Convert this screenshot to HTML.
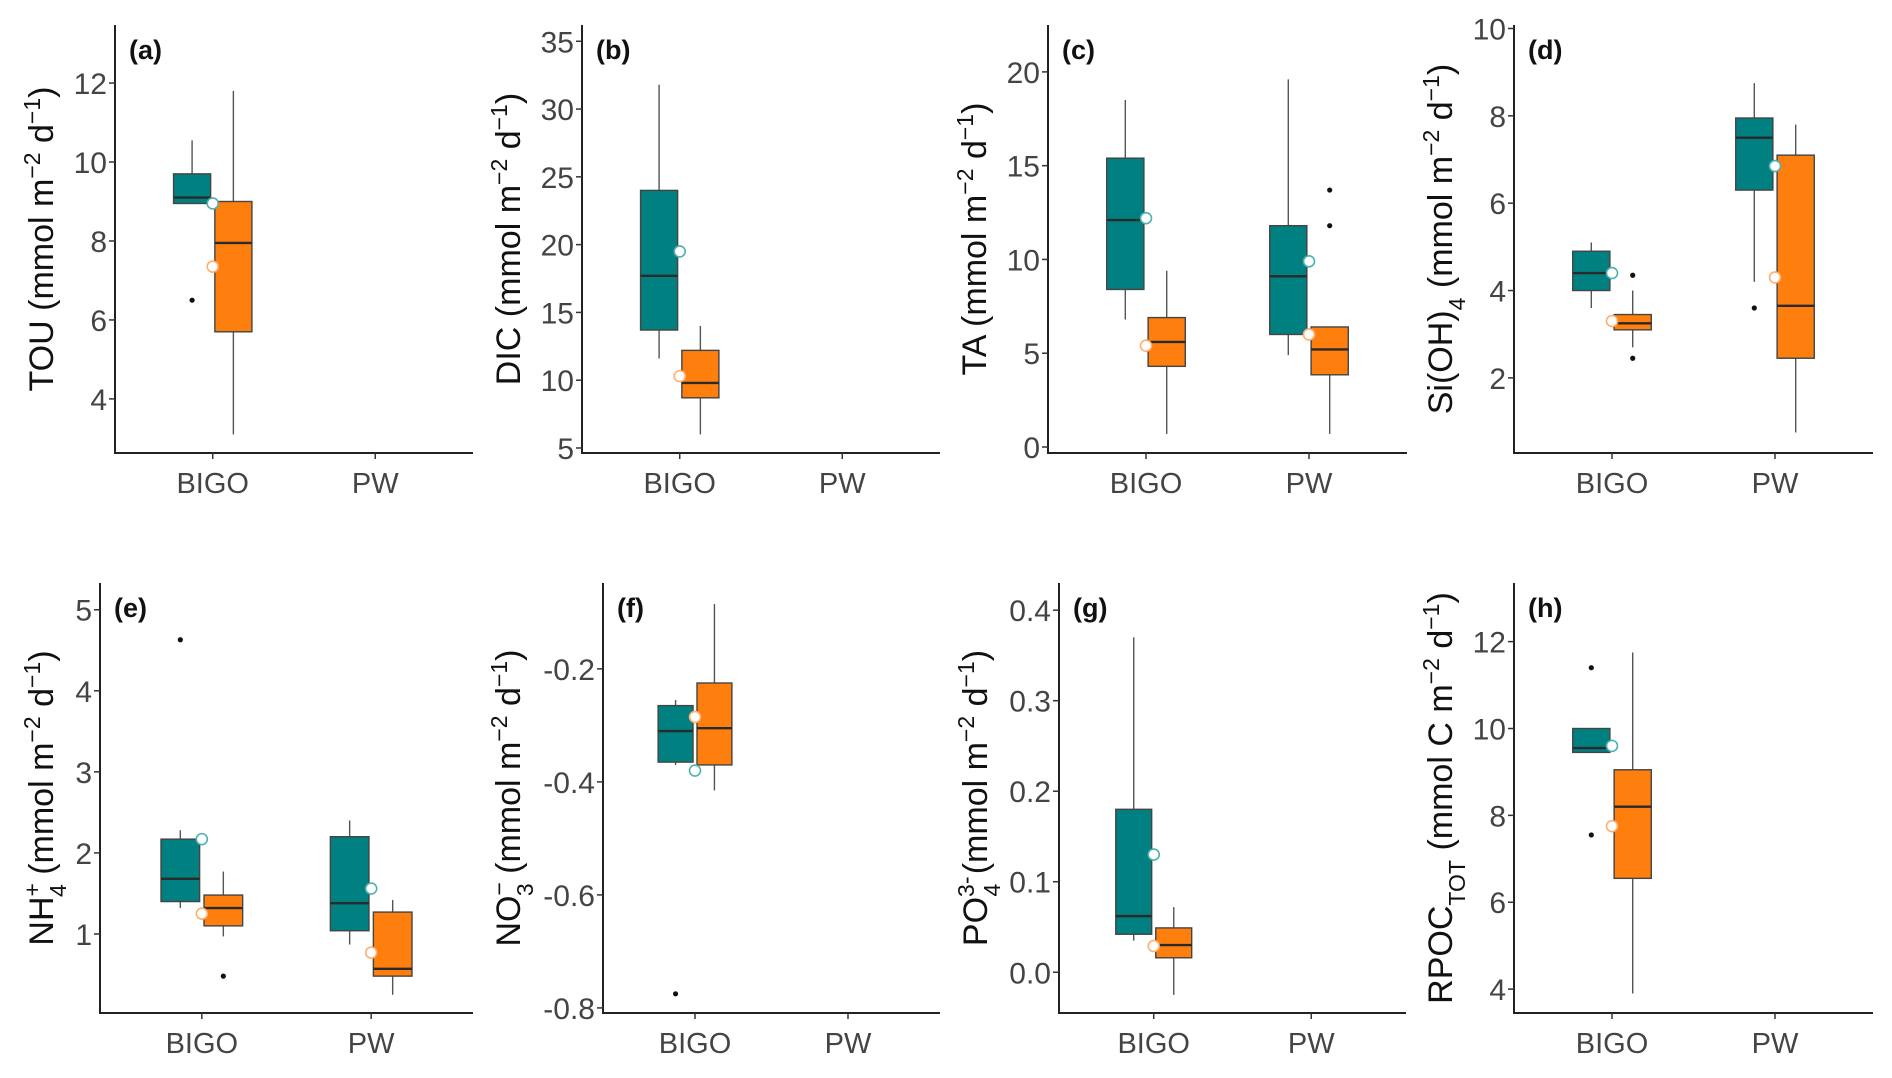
<!DOCTYPE html>
<html><head><meta charset="utf-8">
<style>
html,body{margin:0;padding:0;background:#fff;}
svg{display:block;font-family:"Liberation Sans",Arial,sans-serif;}
</style></head>
<body>
<svg id="chart" width="1892" height="1078" viewBox="0 0 1892 1078" xmlns="http://www.w3.org/2000/svg"></svg>
<script>
// ---- data: [q1, median, q3, whiskerLow, whiskerHigh, mean], outliers separate ----
const groups = ["BIGO", "PW"];
const panelTags = ["(a)","(b)","(c)","(d)","(e)","(f)","(g)","(h)"];
const tickA = [4,6,8,10,12];
const tickB = [5,10,15,20,25,30,35];
const tickC = [0,5,10,15,20];
const tickD = [2,4,6,8,10];
const tickE = [1,2,3,4,5];
const tickF = [-0.8,-0.6,-0.4,-0.2];
const tickG = [0.0,0.1,0.2,0.3,0.4];
const tickH = [4,6,8,10,12];
const domA = [2.63,13.47], domB = [4.63,36.2], domC = [-0.32,22.5], domD = [0.28,10.08];
const domE = [0.025,5.33], domF = [-0.809,-0.048], domG = [-0.045,0.43], domH = [3.45,13.35];
const tealA = [[8.95,9.1,9.7,8.95,10.55,8.95], null];
const orangeA = [[5.7,7.95,9.0,3.1,11.8,7.35], null];
const outTealA = [[6.5],[]], outOrangeA = [[],[]];
const tealB = [[13.7,17.7,24.0,11.6,31.8,19.5], null];
const orangeB = [[8.7,9.8,12.2,6.0,14.0,10.3], null];
const outTealB = [[],[]], outOrangeB = [[],[]];
const tealC = [[8.4,12.1,15.4,6.8,18.5,12.2],[6.0,9.1,11.8,4.9,19.6,9.9]];
const orangeC = [[4.3,5.6,6.9,0.7,9.4,5.4],[3.85,5.2,6.4,0.7,6.4,6.0]];
const outTealC = [[],[]], outOrangeC = [[],[11.8,13.7]];
const tealD = [[4.0,4.4,4.9,3.6,5.1,4.4],[6.3,7.5,7.95,4.2,8.75,6.85]];
const orangeD = [[3.1,3.25,3.45,2.7,4.0,3.3],[2.45,3.65,7.1,0.75,7.8,4.3]];
const outTealD = [[],[3.6]], outOrangeD = [[4.35,2.45],[]];
const tealE = [[1.4,1.68,2.17,1.32,2.28,2.17],[1.04,1.38,2.2,0.87,2.4,1.56]];
const orangeE = [[1.1,1.32,1.48,0.97,1.77,1.25],[0.48,0.57,1.27,0.25,1.42,0.77]];
const outTealE = [[4.63],[]], outOrangeE = [[0.48],[]];
const tealF = [[-0.365,-0.31,-0.265,-0.37,-0.255,-0.38], null];
const orangeF = [[-0.37,-0.305,-0.225,-0.415,-0.085,-0.285], null];
const outTealF = [[-0.775],[]], outOrangeF = [[],[]];
const tealG = [[0.042,0.062,0.18,0.035,0.37,0.13], null];
const orangeG = [[0.016,0.03,0.049,-0.025,0.072,0.029], null];
const outTealG = [[],[]], outOrangeG = [[],[]];
const tealH = [[9.45,9.55,10.0,9.45,10.0,9.6], null];
const orangeH = [[6.55,8.2,9.05,3.9,11.75,7.75], null];
const outTealH = [[11.4,7.55],[]], outOrangeH = [[],[]];

const NS = "http://www.w3.org/2000/svg";
const svg = document.getElementById("chart");
function mk(tag, attrs, parent){
  const e = document.createElementNS(NS, tag);
  for (const k in attrs) e.setAttribute(k, attrs[k]);
  (parent||svg).appendChild(e);
  return e;
}
const TEAL="#008080", ORANGE="#ff7f0e";

const layout = [
  {x0:115,w:358,top:25,bot:453,tx:53},
  {x0:582,w:358,top:25,bot:453,tx:520},
  {x0:1048,w:359,top:25,bot:453,tx:986},
  {x0:1514,w:359,top:25,bot:453,tx:1452},
  {x0:100,w:373,top:583,bot:1013,tx:53},
  {x0:603,w:337,top:583,bot:1013,tx:520},
  {x0:1059,w:347,top:583,bot:1013,tx:987},
  {x0:1514,w:359,top:583,bot:1013,tx:1452}
];
const panels = [
  {ticks:tickA,dom:domA,teal:tealA,orange:orangeA,ot:outTealA,oo:outOrangeA,dec:0,title:"TOU",kind:"std"},
  {ticks:tickB,dom:domB,teal:tealB,orange:orangeB,ot:outTealB,oo:outOrangeB,dec:0,title:"DIC",kind:"std"},
  {ticks:tickC,dom:domC,teal:tealC,orange:orangeC,ot:outTealC,oo:outOrangeC,dec:0,title:"TA",kind:"std"},
  {ticks:tickD,dom:domD,teal:tealD,orange:orangeD,ot:outTealD,oo:outOrangeD,dec:0,title:"Si(OH)",kind:"si"},
  {ticks:tickE,dom:domE,teal:tealE,orange:orangeE,ot:outTealE,oo:outOrangeE,dec:0,title:"NH",kind:"nh"},
  {ticks:tickF,dom:domF,teal:tealF,orange:orangeF,ot:outTealF,oo:outOrangeF,dec:1,title:"NO",kind:"no"},
  {ticks:tickG,dom:domG,teal:tealG,orange:orangeG,ot:outTealG,oo:outOrangeG,dec:1,title:"PO",kind:"po"},
  {ticks:tickH,dom:domH,teal:tealH,orange:orangeH,ot:outTealH,oo:outOrangeH,dec:0,title:"RPOC",kind:"rpoc"}
];

function tickText(v, dec){
  if (dec===1) return v.toFixed(1);
  return String(v);
}

panels.forEach((p, i) => {
  const L = layout[i];
  const g = mk("g", {});
  
  
  const y = v => L.bot - (v - p.dom[0]) / (p.dom[1] - p.dom[0]) * (L.bot - L.top);
  const gx = k => L.x0 + L.w * (k === 0 ? 0.273 : 0.727);
  const spacing = L.w * 0.454;
  const half = spacing * 0.114, off = spacing * 0.127;

  const ya = mk("line", {x1:L.x0,y1:L.top,x2:L.x0,y2:L.bot+1,stroke:"#222","stroke-width":2}, g);
  
  
  const xa = mk("line", {x1:L.x0-1,y1:L.bot,x2:L.x0+L.w,y2:L.bot,stroke:"#222","stroke-width":2}, g);
  
  

  p.ticks.forEach(v => {
    const yy = y(v);
    mk("line", {x1:L.x0-6,y1:yy,x2:L.x0,y2:yy,stroke:"#333","stroke-width":1.5}, g);
    const t = mk("text", {x:L.x0-8,y:yy+11,"text-anchor":"end","font-size":30,fill:"#444"}, g);
    t.textContent = tickText(v, p.dec);
    
    
  });
  groups.forEach((name, k) => {
    const xx = gx(k);
    mk("line", {x1:xx,y1:L.bot,x2:xx,y2:L.bot+6,stroke:"#333","stroke-width":1.5}, g);
    const t = mk("text", {x:xx,y:L.bot+40,"text-anchor":"middle","font-size":29,fill:"#444"}, g);
    t.textContent = name;
    
    
  });

  const tag = mk("text", {x:L.x0+14,y:L.top+34,"font-size":27,"font-weight":"bold",fill:"#111"}, g);
  tag.textContent = panelTags[i];
  
  

  const cy = (L.top + L.bot) / 2;
  const tt = mk("text", {x:L.tx,y:cy,"text-anchor":"middle","font-size":34,fill:"#111",transform:`rotate(-90 ${L.tx} ${cy})`}, g);
  
  
  let html = "";
  const unitStd = ' (mmol m<tspan baseline-shift="super" font-size="23">−2</tspan> d<tspan baseline-shift="super" font-size="23">−1</tspan>)';
  if (p.kind==="std") html = p.title + unitStd;
  else if (p.kind==="si") html = 'Si(OH)<tspan baseline-shift="sub" font-size="23">4</tspan>' + unitStd;
  else if (p.kind==="nh") html = 'NH<tspan baseline-shift="super" font-size="23">+</tspan><tspan dx="-14" baseline-shift="sub" font-size="23">4</tspan>' + unitStd;
  else if (p.kind==="no") html = 'NO<tspan baseline-shift="super" font-size="23">−</tspan><tspan dx="-14" baseline-shift="sub" font-size="23">3</tspan>' + unitStd;
  else if (p.kind==="po") html = 'PO<tspan baseline-shift="super" font-size="23">3-</tspan><tspan dx="-20" baseline-shift="sub" font-size="23">4</tspan>' + unitStd;
  else if (p.kind==="rpoc") html = 'RPOC<tspan baseline-shift="sub" font-size="23">TOT</tspan> (mmol C m<tspan baseline-shift="super" font-size="23">−2</tspan> d<tspan baseline-shift="super" font-size="23">−1</tspan>)';
  tt.innerHTML = html;

  groups.forEach((name, k) => {
    [[p.teal, TEAL, -1, p.ot, "teal"], [p.orange, ORANGE, 1, p.oo, "orange"]].forEach(([series, col, side, outs, sname]) => {
      const s = series[k];
      const cx = gx(k) + side * off;
      if (s) {
        const [q1, med, q3, wl, wh] = s;
        const w1 = mk("line", {x1:cx,y1:y(wh),x2:cx,y2:y(q3),stroke:"#555","stroke-width":1.4}, g);
        
        
        const w2 = mk("line", {x1:cx,y1:y(q1),x2:cx,y2:y(wl),stroke:"#555","stroke-width":1.4}, g);
        
        
        const r = mk("rect", {x:cx-half,y:y(q3),width:half*2,height:Math.max(1,y(q1)-y(q3)),fill:col,stroke:"#444","stroke-width":1.4}, g);
        
        
        const m = mk("line", {x1:cx-half,y1:y(med),x2:cx+half,y2:y(med),stroke:"#2a2a2a","stroke-width":2.4}, g);
        
        
      }
      outs[k].forEach(v => {
        const o = mk("circle", {cx:cx,cy:y(v),r:2.6,fill:"#111"}, g);
        
        
      });
    });
    [[p.teal, "#4fb0b0", "teal"], [p.orange, "#ffae70", "orange"]].forEach(([series, mc, sname]) => {
      const s = series[k];
      if (!s) return;
      const c = mk("circle", {cx:gx(k),cy:y(s[5]),r:5.5,fill:"#fff",stroke:mc,"stroke-width":1.6}, g);
      
      
    });
  });
});
</script>
</body></html>
